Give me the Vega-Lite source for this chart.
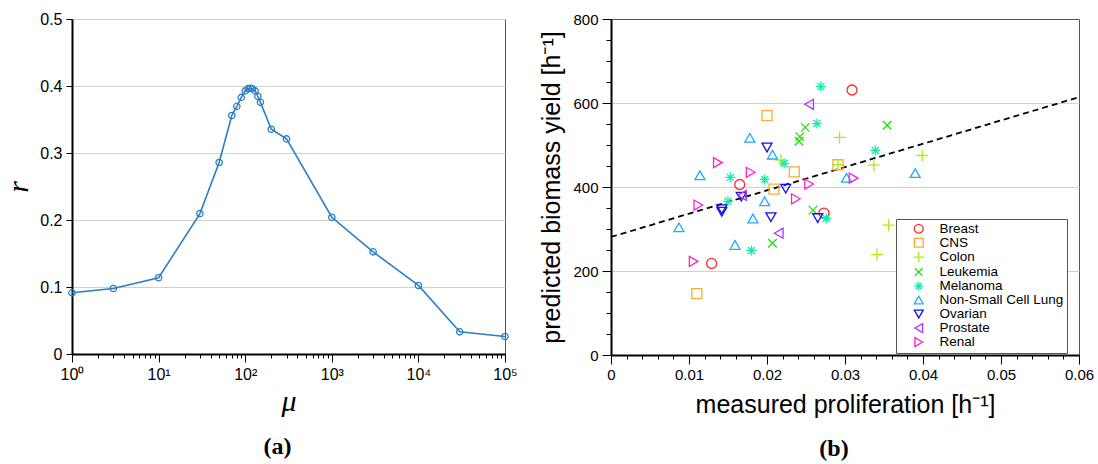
{
  "$schema": "https://vega.github.io/schema/vega-lite/v6.json",
  "background": "white",
  "padding": {"left": 3, "top": 10, "right": 5, "bottom": 5},
  "bounds": "flush",
  "spacing": 106,
  "config": {
    "font": "Liberation Sans",
    "view": {"stroke": "#555", "strokeWidth": 1},
    "axis": {
      "labelFont": "Liberation Sans",
      "titleFont": "Liberation Sans",
      "labelColor": "black",
      "titleColor": "black",
      "domainColor": "black",
      "domainWidth": 2,
      "tickColor": "black",
      "tickWidth": 1,
      "titleFontWeight": "normal",
      "gridColor": "#d0d0d0",
      "gridWidth": 1.2
    }
  },
  "hconcat": [
    {
      "width": 433,
      "height": 335,
      "title": {"text": "(a)", "orient": "bottom", "font": "Liberation Serif", "fontSize": 24, "fontWeight": "bold", "color": "black", "offset": 19, "dx": -11},
      "data": {"values": [
        {"mu": 1, "r": 0.0913},
        {"mu": 3, "r": 0.0978},
        {"mu": 10, "r": 0.1138},
        {"mu": 30, "r": 0.2096},
        {"mu": 50, "r": 0.2859},
        {"mu": 70, "r": 0.356},
        {"mu": 80, "r": 0.3696},
        {"mu": 90, "r": 0.383},
        {"mu": 100, "r": 0.3927},
        {"mu": 108, "r": 0.396},
        {"mu": 115, "r": 0.3967},
        {"mu": 121, "r": 0.3957},
        {"mu": 130, "r": 0.3927},
        {"mu": 140, "r": 0.3847},
        {"mu": 150, "r": 0.3756},
        {"mu": 200, "r": 0.3355},
        {"mu": 300, "r": 0.321},
        {"mu": 1000, "r": 0.2041},
        {"mu": 3000, "r": 0.1525},
        {"mu": 10000, "r": 0.1023},
        {"mu": 30000, "r": 0.0331},
        {"mu": 100000, "r": 0.0261}
      ]},
      "encoding": {
        "x": {
          "field": "mu", "type": "quantitative",
          "scale": {"type": "log", "domain": [1, 100000], "nice": false},
          "axis": {
            "title": "μ",
            "titleFont": "Liberation Serif",
            "titleFontStyle": "italic",
            "titleFontSize": 30,
            "titlePadding": 4,
            "grid": false,
            "values": [1,2,3,4,5,6,7,8,9,10,20,30,40,50,60,70,80,90,100,200,300,400,500,600,700,800,900,1000,2000,3000,4000,5000,6000,7000,8000,9000,10000,20000,30000,40000,50000,60000,70000,80000,90000,100000],
            "labelExpr": "datum.value == 1 ? '10⁰' : datum.value == 10 ? '10¹' : datum.value == 100 ? '10²' : datum.value == 1000 ? '10³' : datum.value == 10000 ? '10⁴' : datum.value == 100000 ? '10⁵' : ''",
            "labelFontSize": 16,
            "labelPadding": 4,
            "labelFlush": false,
            "labelOverlap": false,
            "tickSize": {"condition": {"test": "indexof([1,10,100,1000,10000,100000], datum.value) >= 0", "value": 8}, "value": 4}
          }
        },
        "y": {
          "field": "r", "type": "quantitative",
          "scale": {"domain": [0, 0.5], "nice": false},
          "axis": {
            "title": "r",
            "titleFont": "Liberation Serif",
            "titleFontStyle": "italic",
            "titleFontSize": 30,
            "titlePadding": 6,
            "values": [0, 0.1, 0.2, 0.3, 0.4, 0.5],
            "labelExpr": "datum.value == 0 ? '0' : format(datum.value, '.1f')",
            "labelFontSize": 16,
            "labelPadding": 4,
            "tickSize": 6,
            "grid": true
          }
        }
      },
      "layer": [
        {"mark": {"type": "line", "color": "#2a7fc4", "strokeWidth": 1.6}},
        {"mark": {"type": "point", "shape": "circle", "filled": false, "color": "#2a7fc4", "size": 40, "strokeWidth": 1.3, "opacity": 1}}
      ]
    },
    {
      "width": 468,
      "height": 336,
      "title": {"text": "(b)", "orient": "bottom", "font": "Liberation Serif", "fontSize": 24, "fontWeight": "bold", "color": "black", "offset": 20, "dx": -11},
      "encoding": {
        "x": {
          "field": "proliferation", "type": "quantitative",
          "scale": {"domain": [0, 0.06], "nice": false, "zero": true},
          "axis": {
            "title": "measured proliferation [h⁻¹]",
            "titleFontSize": 25,
            "titlePadding": 10,
            "grid": false,
            "values": [0,0.002,0.004,0.006,0.008,0.01,0.012,0.014,0.016,0.018,0.02,0.022,0.024,0.026,0.028,0.03,0.032,0.034,0.036,0.038,0.04,0.042,0.044,0.046,0.048,0.05,0.052,0.054,0.056,0.058,0.06],
            "labelExpr": "abs(datum.value * 100 - round(datum.value * 100)) < 1e-6 ? format(datum.value, '~g') : ''",
            "labelFontSize": 15,
            "labelPadding": 3,
            "labelFlush": false,
            "labelOverlap": false,
            "tickSize": {"condition": {"test": "abs(datum.value * 100 - round(datum.value * 100)) < 1e-6", "value": 9}, "value": 4}
          }
        },
        "y": {
          "field": "biomass", "type": "quantitative",
          "scale": {"domain": [0, 800], "nice": false},
          "axis": {
            "title": "predicted biomass yield [h⁻¹]",
            "titleFontSize": 25,
            "titlePadding": 8,
            "values": [0,50,100,150,200,250,300,350,400,450,500,550,600,650,700,750,800],
            "labelExpr": "datum.value % 200 == 0 ? format(datum.value, 'd') : ''",
            "labelFontSize": 15,
            "labelPadding": 4,
            "labelOverlap": false,
            "tickSize": {"condition": {"test": "datum.value % 200 == 0", "value": 9}, "value": 5},
            "grid": true,
            "gridOpacity": {"condition": {"test": "datum.value % 200 == 0 && datum.value > 0 && datum.value < 800", "value": 1}, "value": 0}
          }
        }
      },
      "layer": [
        {
          "data": {"values": [
            {"proliferation": 0, "biomass": 281},
            {"proliferation": 0.06, "biomass": 614}
          ]},
          "mark": {"type": "line", "color": "black", "strokeWidth": 1.8, "strokeDash": [6, 4]}
        },
        {
          "data": {"values": [
            {"cancer": "Breast", "proliferation": 0.0165, "biomass": 406},
            {"cancer": "Breast", "proliferation": 0.0129, "biomass": 218},
            {"cancer": "Breast", "proliferation": 0.0273, "biomass": 338},
            {"cancer": "Breast", "proliferation": 0.0309, "biomass": 631},
            {"cancer": "CNS", "proliferation": 0.0200, "biomass": 570},
            {"cancer": "CNS", "proliferation": 0.0235, "biomass": 436},
            {"cancer": "CNS", "proliferation": 0.0209, "biomass": 395},
            {"cancer": "CNS", "proliferation": 0.0291, "biomass": 453},
            {"cancer": "CNS", "proliferation": 0.0110, "biomass": 146},
            {"cancer": "Colon", "proliferation": 0.0293, "biomass": 518},
            {"cancer": "Colon", "proliferation": 0.0218, "biomass": 464},
            {"cancer": "Colon", "proliferation": 0.0291, "biomass": 453},
            {"cancer": "Colon", "proliferation": 0.0337, "biomass": 452},
            {"cancer": "Colon", "proliferation": 0.0399, "biomass": 475},
            {"cancer": "Colon", "proliferation": 0.0356, "biomass": 309},
            {"cancer": "Colon", "proliferation": 0.0341, "biomass": 239},
            {"cancer": "Leukemia", "proliferation": 0.0249, "biomass": 542},
            {"cancer": "Leukemia", "proliferation": 0.0242, "biomass": 520},
            {"cancer": "Leukemia", "proliferation": 0.0241, "biomass": 509},
            {"cancer": "Leukemia", "proliferation": 0.0354, "biomass": 547},
            {"cancer": "Leukemia", "proliferation": 0.0259, "biomass": 345},
            {"cancer": "Leukemia", "proliferation": 0.0207, "biomass": 266},
            {"cancer": "Melanoma", "proliferation": 0.0264, "biomass": 551},
            {"cancer": "Melanoma", "proliferation": 0.0269, "biomass": 639},
            {"cancer": "Melanoma", "proliferation": 0.0222, "biomass": 456},
            {"cancer": "Melanoma", "proliferation": 0.0339, "biomass": 487},
            {"cancer": "Melanoma", "proliferation": 0.0153, "biomass": 423},
            {"cancer": "Melanoma", "proliferation": 0.0197, "biomass": 418},
            {"cancer": "Melanoma", "proliferation": 0.0150, "biomass": 366},
            {"cancer": "Melanoma", "proliferation": 0.0180, "biomass": 249},
            {"cancer": "Melanoma", "proliferation": 0.0276, "biomass": 325},
            {"cancer": "Non-Small Cell Lung", "proliferation": 0.0178, "biomass": 517},
            {"cancer": "Non-Small Cell Lung", "proliferation": 0.0207, "biomass": 477},
            {"cancer": "Non-Small Cell Lung", "proliferation": 0.0114, "biomass": 428},
            {"cancer": "Non-Small Cell Lung", "proliferation": 0.0197, "biomass": 366},
            {"cancer": "Non-Small Cell Lung", "proliferation": 0.0182, "biomass": 325},
            {"cancer": "Non-Small Cell Lung", "proliferation": 0.0087, "biomass": 304},
            {"cancer": "Non-Small Cell Lung", "proliferation": 0.0159, "biomass": 262},
            {"cancer": "Non-Small Cell Lung", "proliferation": 0.0302, "biomass": 422},
            {"cancer": "Non-Small Cell Lung", "proliferation": 0.0390, "biomass": 433},
            {"cancer": "Ovarian", "proliferation": 0.0200, "biomass": 494},
            {"cancer": "Ovarian", "proliferation": 0.0224, "biomass": 396},
            {"cancer": "Ovarian", "proliferation": 0.0167, "biomass": 377},
            {"cancer": "Ovarian", "proliferation": 0.0142, "biomass": 347},
            {"cancer": "Ovarian", "proliferation": 0.0142, "biomass": 341},
            {"cancer": "Ovarian", "proliferation": 0.0205, "biomass": 328},
            {"cancer": "Ovarian", "proliferation": 0.0265, "biomass": 326},
            {"cancer": "Prostate", "proliferation": 0.0254, "biomass": 597},
            {"cancer": "Prostate", "proliferation": 0.0168, "biomass": 380},
            {"cancer": "Prostate", "proliferation": 0.0215, "biomass": 290},
            {"cancer": "Renal", "proliferation": 0.0137, "biomass": 458},
            {"cancer": "Renal", "proliferation": 0.0179, "biomass": 435},
            {"cancer": "Renal", "proliferation": 0.0112, "biomass": 357},
            {"cancer": "Renal", "proliferation": 0.0106, "biomass": 223},
            {"cancer": "Renal", "proliferation": 0.0254, "biomass": 407},
            {"cancer": "Renal", "proliferation": 0.0237, "biomass": 372},
            {"cancer": "Renal", "proliferation": 0.0311, "biomass": 421}
          ]},
          "mark": {"type": "point", "filled": false, "size": 100, "strokeWidth": 1.3, "opacity": 1},
          "encoding": {
            "color": {
              "field": "cancer", "type": "nominal",
              "scale": {
                "domain": ["Breast", "CNS", "Colon", "Leukemia", "Melanoma", "Non-Small Cell Lung", "Ovarian", "Prostate", "Renal"],
                "range": ["#ff2a2a", "#ffaa33", "#aaee11", "#22dd11", "#11eeaa", "#22aaff", "#1111ee", "#aa33ff", "#ff22cc"]
              },
              "legend": {
                "title": null,
                "orient": "none",
                "legendX": 824,
                "legendY": 200,
                "fillColor": "white",
                "strokeColor": "#555",
                "padding": 3,
                "labelFont": "Liberation Sans",
                "labelFontSize": 13.5,
                "labelColor": "black",
                "labelLimit": 200,
                "rowPadding": -1.7,
                "symbolSize": 80,
                "symbolStrokeWidth": 1.3,
                "symbolOffset": 13,
                "labelOffset": 14
              }
            },
            "shape": {
              "field": "cancer", "type": "nominal",
              "scale": {
                "domain": ["Breast", "CNS", "Colon", "Leukemia", "Melanoma", "Non-Small Cell Lung", "Ovarian", "Prostate", "Renal"],
                "range": ["circle", "square", "M-1.2,0H1.2M0,-1.2V1.2", "M-0.85,-0.85L0.85,0.85M-0.85,0.85L0.85,-0.85", "M-1,0H1M0,-1V1M-0.7,-0.7L0.7,0.7M-0.7,0.7L0.7,-0.7", "triangle-up", "triangle-down", "triangle-left", "triangle-right"]
              }
            }
          }
        }
      ]
    }
  ]
}
